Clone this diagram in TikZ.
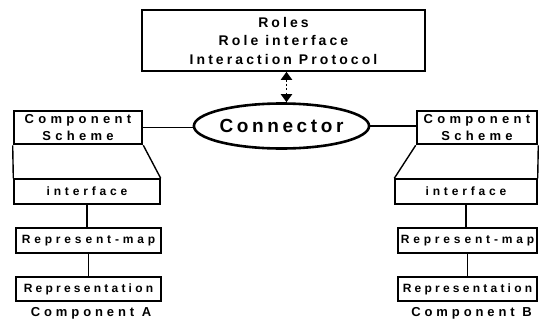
\documentclass[tikz,border=0pt]{standalone}
\usepackage{fontspec}
\setmainfont{Liberation Sans}
\newfontfamily\fTop{Liberation Sans}[LetterSpace=22]
\newfontfamily\fCS{Liberation Sans}[LetterSpace=33]
\newfontfamily\fBox{Liberation Sans}[LetterSpace=32]
\newfontfamily\fRep{Liberation Sans}[LetterSpace=27]
\newfontfamily\fCon{Liberation Sans}[LetterSpace=19]
\newfontfamily\fLab{Liberation Sans}[LetterSpace=30]
\usetikzlibrary{arrows.meta,shapes.geometric}
\tikzset{
  plainbox/.style={draw, line width=1.4pt, inner sep=0pt, minimum height=25pt},
  schemebox/.style={draw, line width=2.6pt, inner sep=0pt, minimum height=33pt, align=center},
  link/.style={line width=1.4pt},
  dotarrow/.style={line width=1.9pt, dash pattern=on 2.2pt off 2.2pt,
     {Triangle[width=11pt,length=8pt]}-{Triangle[width=11pt,length=8pt]}},
}
\begin{document}
\begin{tikzpicture}[x=1pt,y=-1pt]
\useasboundingbox (0,0) rectangle (542,327);
% top roles box
\node[draw, line width=1.6pt, inner sep=0pt, minimum width=283pt, minimum height=61pt, align=center,
      font=\fTop\bfseries\fontsize{14}{18.5}\selectfont] (roles) at (283.5,40.5)
  {Roles\\Role interface\\Interaction Protocol};
% connector ellipse
\node[ellipse, draw, line width=2.6pt, inner sep=0pt, minimum width=153pt, minimum height=45pt,
      font=\fCon\bfseries\fontsize{19}{21}\selectfont] (conn) at (281.5,126) {Connector};
% component A
\node[schemebox, minimum width=128pt, font=\fCS\bfseries\fontsize{13}{16.5}\selectfont] (csA) at (78,127.5) {Component\\Scheme};
\node[plainbox, minimum width=146pt, font=\fBox\bfseries\fontsize{12}{14}\selectfont] (ifA) at (87,191.5) {interface};
\node[plainbox, minimum width=145pt, font=\fBox\bfseries\fontsize{12}{14}\selectfont] (rmA) at (88.5,240.5) {Represent-map};
\node[plainbox, minimum width=145pt, minimum height=24pt, font=\fRep\bfseries\fontsize{12}{14}\selectfont] (rpA) at (88.5,289) {Representation};
\node[font=\fLab\bfseries\fontsize{13}{15}\selectfont, inner sep=0pt] (labA) at (91,313) {Component A};
% component B
\node[schemebox, minimum width=120pt, font=\fCS\bfseries\fontsize{13}{16.5}\selectfont] (csB) at (477,127.5) {Component\\Scheme};
\node[plainbox, minimum width=142pt, font=\fBox\bfseries\fontsize{12}{14}\selectfont] (ifB) at (466,191.5) {interface};
\node[plainbox, minimum width=139pt, font=\fBox\bfseries\fontsize{12}{14}\selectfont] (rmB) at (467.5,240.5) {Represent-map};
\node[plainbox, minimum width=139pt, minimum height=24pt, font=\fRep\bfseries\fontsize{12}{14}\selectfont] (rpB) at (467.5,289) {Representation};
\node[font=\fLab\bfseries\fontsize{13}{15}\selectfont, inner sep=0pt] (labB) at (471.5,313) {Component B};
% trapezoid sides
\draw[link] (csA.south west) -- (ifA.north west);
\draw[link] (csA.south east) -- (ifA.north east);
\draw[link] (csB.south west) -- (ifB.north west);
\draw[link] (csB.south east) -- (ifB.north east);
% vertical links
\draw[link] (ifA.south) -- (ifA.south |- rmA.north);
\draw[link] (rmA.south) -- (rpA.north);
\draw[link] (ifB.south) -- (ifB.south |- rmB.north);
\draw[link] (rmB.south) -- (rpB.north);
% horizontal links to connector
\draw[link] (csA.east) -- (csA.east -| conn.west);
\draw[link] (conn.east) -- (conn.east -| csB.west);
% dotted double arrow
\draw[dotarrow] ([xshift=3pt]roles.south) -- ([xshift=3pt]roles.south |- conn.north);
\end{tikzpicture}
\end{document}
